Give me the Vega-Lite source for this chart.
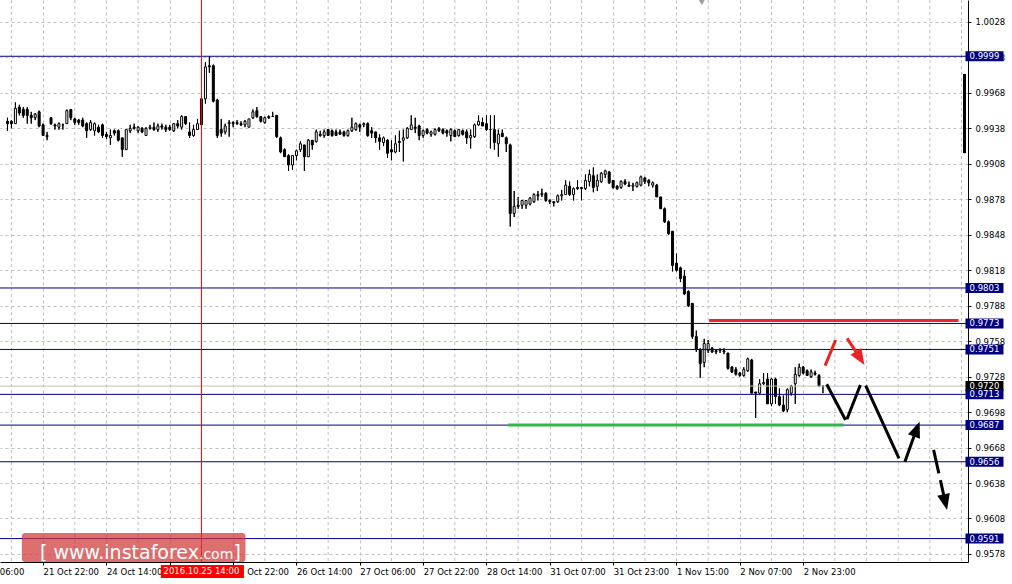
{
"$schema":"https://vega.github.io/schema/vega-lite/v6.json",
"width":968,"height":562,"autosize":{"type":"none"},"padding":{"left":0,"top":0,"right":44,"bottom":22},"background":"#ffffff",
"config":{"view":{"stroke":null},
 "axis":{"labelOverlap":false,"labelSeparation":-1000,"grid":true,"gridColor":"#c0c0c0","gridDash":[3,3],"gridWidth":1,"domainColor":"#000000","domainWidth":1,"tickColor":"#000000","tickSize":3,"labelFont":"DejaVu Sans","labelFontSize":8.5,"labelColor":"#000000"}},
"datasets":{
"candles":[
{"n":-9,"o":0.9944,"h":0.9947,"l":0.9936,"c":0.9942},
{"n":-8,"o":0.9944,"h":0.9945,"l":0.9938,"c":0.9942},
{"n":-7,"o":0.9942,"h":0.9960,"l":0.9942,"c":0.9955},
{"n":-6,"o":0.9956,"h":0.9958,"l":0.9949,"c":0.9951},
{"n":-5,"o":0.9954,"h":0.9956,"l":0.9947,"c":0.9949},
{"n":-4,"o":0.9954,"h":0.9956,"l":0.9942,"c":0.9949},
{"n":-3,"o":0.9949,"h":0.9952,"l":0.9942,"c":0.9947},
{"n":-2,"o":0.9947,"h":0.9951,"l":0.9945,"c":0.9950},
{"n":-1,"o":0.9952,"h":0.9953,"l":0.9939,"c":0.9940},
{"n":0,"o":0.9941,"h":0.9942,"l":0.9932,"c":0.9932},
{"n":1,"o":0.9932,"h":0.9935,"l":0.9928,"c":0.9931},
{"n":2,"o":0.9947,"h":0.9947,"l":0.9941,"c":0.9942},
{"n":3,"o":0.9941,"h":0.9942,"l":0.9937,"c":0.9940},
{"n":4,"o":0.9939,"h":0.9943,"l":0.9937,"c":0.9942},
{"n":5,"o":0.9941,"h":0.9942,"l":0.9937,"c":0.9941},
{"n":6,"o":0.9942,"h":0.9954,"l":0.9942,"c":0.9953},
{"n":7,"o":0.9954,"h":0.9954,"l":0.9945,"c":0.9947},
{"n":8,"o":0.9946,"h":0.9947,"l":0.9941,"c":0.9943},
{"n":9,"o":0.9945,"h":0.9946,"l":0.9941,"c":0.9943},
{"n":10,"o":0.9945,"h":0.9947,"l":0.9939,"c":0.9940},
{"n":11,"o":0.9942,"h":0.9943,"l":0.9930,"c":0.9936},
{"n":12,"o":0.9937,"h":0.9945,"l":0.9936,"c":0.9943},
{"n":13,"o":0.9936,"h":0.9943,"l":0.9932,"c":0.9942},
{"n":14,"o":0.9939,"h":0.9941,"l":0.9934,"c":0.9935},
{"n":15,"o":0.9941,"h":0.9942,"l":0.9930,"c":0.9932},
{"n":16,"o":0.9933,"h":0.9935,"l":0.9929,"c":0.9931},
{"n":17,"o":0.9930,"h":0.9937,"l":0.9924,"c":0.9932},
{"n":18,"o":0.9936,"h":0.9937,"l":0.9932,"c":0.9934},
{"n":19,"o":0.9936,"h":0.9937,"l":0.9927,"c":0.9928},
{"n":20,"o":0.9930,"h":0.9930,"l":0.9914,"c":0.9920},
{"n":21,"o":0.9920,"h":0.9937,"l":0.9920,"c":0.9937},
{"n":22,"o":0.9936,"h":0.9941,"l":0.9934,"c":0.9938},
{"n":23,"o":0.9939,"h":0.9942,"l":0.9937,"c":0.9938},
{"n":24,"o":0.9936,"h":0.9940,"l":0.9934,"c":0.9939},
{"n":25,"o":0.9938,"h":0.9939,"l":0.9934,"c":0.9935},
{"n":26,"o":0.9932,"h":0.9939,"l":0.9932,"c":0.9938},
{"n":27,"o":0.9938,"h":0.9941,"l":0.9937,"c":0.9939},
{"n":28,"o":0.9939,"h":0.9943,"l":0.9936,"c":0.9937},
{"n":29,"o":0.9937,"h":0.9942,"l":0.9935,"c":0.9940},
{"n":30,"o":0.9940,"h":0.9942,"l":0.9937,"c":0.9939},
{"n":31,"o":0.9939,"h":0.9941,"l":0.9935,"c":0.9937},
{"n":32,"o":0.9939,"h":0.9941,"l":0.9936,"c":0.9937},
{"n":33,"o":0.9936,"h":0.9942,"l":0.9935,"c":0.9942},
{"n":34,"o":0.9942,"h":0.9945,"l":0.9938,"c":0.9940},
{"n":35,"o":0.9939,"h":0.9949,"l":0.9937,"c":0.9948},
{"n":36,"o":0.9948,"h":0.9948,"l":0.9941,"c":0.9942},
{"n":37,"o":0.9935,"h":0.9943,"l":0.9930,"c":0.9932},
{"n":38,"o":0.9932,"h":0.9941,"l":0.9931,"c":0.9937},
{"n":39,"o":0.9937,"h":0.9946,"l":0.9937,"c":0.9942},
{"n":40,"o":0.9963,"h":0.9963,"l":0.9941,"c":0.9941},
{"n":41,"o":0.9963,"h":0.9994,"l":0.9959,"c":0.9990},
{"n":42,"o":0.9991,"h":0.9999,"l":0.9985,"c":0.9990},
{"n":43,"o":0.9991,"h":0.9992,"l":0.9960,"c":0.9961},
{"n":44,"o":0.9962,"h":0.9963,"l":0.9930,"c":0.9932},
{"n":45,"o":0.9937,"h":0.9946,"l":0.9931,"c":0.9934},
{"n":46,"o":0.9935,"h":0.9942,"l":0.9933,"c":0.9940},
{"n":47,"o":0.9942,"h":0.9945,"l":0.9931,"c":0.9943},
{"n":48,"o":0.9943,"h":0.9944,"l":0.9939,"c":0.9942},
{"n":49,"o":0.9943,"h":0.9945,"l":0.9941,"c":0.9942},
{"n":50,"o":0.9942,"h":0.9944,"l":0.9940,"c":0.9941},
{"n":51,"o":0.9941,"h":0.9945,"l":0.9939,"c":0.9944},
{"n":52,"o":0.9939,"h":0.9946,"l":0.9939,"c":0.9946},
{"n":53,"o":0.9947,"h":0.9954,"l":0.9946,"c":0.9952},
{"n":54,"o":0.9953,"h":0.9956,"l":0.9947,"c":0.9948},
{"n":55,"o":0.9948,"h":0.9948,"l":0.9943,"c":0.9944},
{"n":56,"o":0.9943,"h":0.9948,"l":0.9942,"c":0.9947},
{"n":57,"o":0.9948,"h":0.9949,"l":0.9946,"c":0.9947},
{"n":58,"o":0.9948,"h":0.9952,"l":0.9948,"c":0.9948},
{"n":59,"o":0.9949,"h":0.9949,"l":0.9930,"c":0.9931},
{"n":60,"o":0.9930,"h":0.9931,"l":0.9917,"c":0.9918},
{"n":61,"o":0.9920,"h":0.9921,"l":0.9914,"c":0.9914},
{"n":62,"o":0.9915,"h":0.9916,"l":0.9902,"c":0.9907},
{"n":63,"o":0.9907,"h":0.9915,"l":0.9903,"c":0.9915},
{"n":64,"o":0.9915,"h":0.9920,"l":0.9911,"c":0.9919},
{"n":65,"o":0.9920,"h":0.9927,"l":0.9918,"c":0.9925},
{"n":66,"o":0.9924,"h":0.9924,"l":0.9902,"c":0.9914},
{"n":67,"o":0.9914,"h":0.9929,"l":0.9914,"c":0.9928},
{"n":68,"o":0.9928,"h":0.9928,"l":0.9920,"c":0.9924},
{"n":69,"o":0.9927,"h":0.9937,"l":0.9926,"c":0.9935},
{"n":70,"o":0.9933,"h":0.9936,"l":0.9931,"c":0.9932},
{"n":71,"o":0.9932,"h":0.9937,"l":0.9930,"c":0.9935},
{"n":72,"o":0.9937,"h":0.9937,"l":0.9932,"c":0.9932},
{"n":73,"o":0.9936,"h":0.9937,"l":0.9931,"c":0.9932},
{"n":74,"o":0.9935,"h":0.9937,"l":0.9932,"c":0.9932},
{"n":75,"o":0.9935,"h":0.9937,"l":0.9933,"c":0.9933},
{"n":76,"o":0.9935,"h":0.9936,"l":0.9931,"c":0.9932},
{"n":77,"o":0.9932,"h":0.9937,"l":0.9931,"c":0.9936},
{"n":78,"o":0.9936,"h":0.9947,"l":0.9935,"c":0.9939},
{"n":79,"o":0.9937,"h":0.9943,"l":0.9936,"c":0.9942},
{"n":80,"o":0.9941,"h":0.9942,"l":0.9935,"c":0.9939},
{"n":81,"o":0.9941,"h":0.9943,"l":0.9939,"c":0.9942},
{"n":82,"o":0.9942,"h":0.9943,"l":0.9931,"c":0.9932},
{"n":83,"o":0.9936,"h":0.9939,"l":0.9930,"c":0.9934},
{"n":84,"o":0.9935,"h":0.9935,"l":0.9926,"c":0.9930},
{"n":85,"o":0.9930,"h":0.9933,"l":0.9920,"c":0.9927},
{"n":86,"o":0.9926,"h":0.9931,"l":0.9923,"c":0.9930},
{"n":87,"o":0.9928,"h":0.9929,"l":0.9913,"c":0.9917},
{"n":88,"o":0.9920,"h":0.9928,"l":0.9911,"c":0.9918},
{"n":89,"o":0.9918,"h":0.9932,"l":0.9917,"c":0.9925},
{"n":90,"o":0.9927,"h":0.9936,"l":0.9918,"c":0.9926},
{"n":91,"o":0.9928,"h":0.9937,"l":0.9910,"c":0.9930},
{"n":92,"o":0.9930,"h":0.9939,"l":0.9929,"c":0.9938},
{"n":93,"o":0.9937,"h":0.9949,"l":0.9937,"c":0.9941},
{"n":94,"o":0.9939,"h":0.9947,"l":0.9934,"c":0.9938},
{"n":95,"o":0.9940,"h":0.9941,"l":0.9928,"c":0.9932},
{"n":96,"o":0.9932,"h":0.9937,"l":0.9930,"c":0.9936},
{"n":97,"o":0.9937,"h":0.9938,"l":0.9933,"c":0.9934},
{"n":98,"o":0.9933,"h":0.9936,"l":0.9931,"c":0.9935},
{"n":99,"o":0.9933,"h":0.9938,"l":0.9932,"c":0.9937},
{"n":100,"o":0.9938,"h":0.9939,"l":0.9935,"c":0.9936},
{"n":101,"o":0.9937,"h":0.9938,"l":0.9933,"c":0.9934},
{"n":102,"o":0.9936,"h":0.9937,"l":0.9931,"c":0.9934},
{"n":103,"o":0.9932,"h":0.9938,"l":0.9927,"c":0.9937},
{"n":104,"o":0.9936,"h":0.9937,"l":0.9931,"c":0.9931},
{"n":105,"o":0.9932,"h":0.9937,"l":0.9931,"c":0.9937},
{"n":106,"o":0.9936,"h":0.9937,"l":0.9932,"c":0.9933},
{"n":107,"o":0.9935,"h":0.9937,"l":0.9925,"c":0.9930},
{"n":108,"o":0.9930,"h":0.9937,"l":0.9921,"c":0.9932},
{"n":109,"o":0.9931,"h":0.9942,"l":0.9930,"c":0.9941},
{"n":110,"o":0.9941,"h":0.9949,"l":0.9940,"c":0.9944},
{"n":111,"o":0.9943,"h":0.9947,"l":0.9940,"c":0.9940},
{"n":112,"o":0.9942,"h":0.9949,"l":0.9936,"c":0.9937},
{"n":113,"o":0.9937,"h":0.9949,"l":0.9921,"c":0.9937},
{"n":114,"o":0.9937,"h":0.9949,"l":0.9920,"c":0.9926},
{"n":115,"o":0.9925,"h":0.9937,"l":0.9914,"c":0.9933},
{"n":116,"o":0.9934,"h":0.9937,"l":0.9931,"c":0.9931},
{"n":117,"o":0.9930,"h":0.9931,"l":0.9918,"c":0.9925},
{"n":118,"o":0.9924,"h":0.9925,"l":0.9855,"c":0.9866},
{"n":119,"o":0.9866,"h":0.9885,"l":0.9863,"c":0.9872},
{"n":120,"o":0.9873,"h":0.9880,"l":0.9870,"c":0.9872},
{"n":121,"o":0.9873,"h":0.9877,"l":0.9870,"c":0.9877},
{"n":122,"o":0.9873,"h":0.9877,"l":0.9870,"c":0.9877},
{"n":123,"o":0.9874,"h":0.9880,"l":0.9873,"c":0.9879},
{"n":124,"o":0.9876,"h":0.9883,"l":0.9875,"c":0.9882},
{"n":125,"o":0.9882,"h":0.9885,"l":0.9877,"c":0.9881},
{"n":126,"o":0.9882,"h":0.9887,"l":0.9880,"c":0.9883},
{"n":127,"o":0.9883,"h":0.9884,"l":0.9876,"c":0.9877},
{"n":128,"o":0.9877,"h":0.9878,"l":0.9874,"c":0.9876},
{"n":129,"o":0.9876,"h":0.9876,"l":0.9872,"c":0.9875},
{"n":130,"o":0.9876,"h":0.9882,"l":0.9875,"c":0.9881},
{"n":131,"o":0.9881,"h":0.9886,"l":0.9877,"c":0.9882},
{"n":132,"o":0.9882,"h":0.9894,"l":0.9882,"c":0.9890},
{"n":133,"o":0.9889,"h":0.9893,"l":0.9881,"c":0.9882},
{"n":134,"o":0.9882,"h":0.9888,"l":0.9877,"c":0.9887},
{"n":135,"o":0.9888,"h":0.9894,"l":0.9886,"c":0.9887},
{"n":136,"o":0.9888,"h":0.9888,"l":0.9877,"c":0.9887},
{"n":137,"o":0.9887,"h":0.9899,"l":0.9886,"c":0.9894},
{"n":138,"o":0.9893,"h":0.9903,"l":0.9889,"c":0.9899},
{"n":139,"o":0.9898,"h":0.9905,"l":0.9884,"c":0.9888},
{"n":140,"o":0.9889,"h":0.9899,"l":0.9885,"c":0.9894},
{"n":141,"o":0.9893,"h":0.9901,"l":0.9892,"c":0.9900},
{"n":142,"o":0.9899,"h":0.9903,"l":0.9896,"c":0.9902},
{"n":143,"o":0.9901,"h":0.9902,"l":0.9891,"c":0.9892},
{"n":144,"o":0.9894,"h":0.9894,"l":0.9887,"c":0.9888},
{"n":145,"o":0.9889,"h":0.9890,"l":0.9886,"c":0.9887},
{"n":146,"o":0.9888,"h":0.9894,"l":0.9887,"c":0.9893},
{"n":147,"o":0.9893,"h":0.9895,"l":0.9890,"c":0.9891},
{"n":148,"o":0.9890,"h":0.9893,"l":0.9889,"c":0.9889},
{"n":149,"o":0.9889,"h":0.9892,"l":0.9885,"c":0.9890},
{"n":150,"o":0.9889,"h":0.9893,"l":0.9888,"c":0.9892},
{"n":151,"o":0.9890,"h":0.9898,"l":0.9889,"c":0.9897},
{"n":152,"o":0.9896,"h":0.9897,"l":0.9891,"c":0.9893},
{"n":153,"o":0.9894,"h":0.9895,"l":0.9889,"c":0.9892},
{"n":154,"o":0.9890,"h":0.9893,"l":0.9888,"c":0.9892},
{"n":155,"o":0.9890,"h":0.9891,"l":0.9880,"c":0.9880},
{"n":156,"o":0.9880,"h":0.9880,"l":0.9870,"c":0.9870},
{"n":157,"o":0.9870,"h":0.9871,"l":0.9858,"c":0.9859},
{"n":158,"o":0.9859,"h":0.9860,"l":0.9848,"c":0.9849},
{"n":159,"o":0.9851,"h":0.9851,"l":0.9817,"c":0.9822},
{"n":160,"o":0.9824,"h":0.9832,"l":0.9817,"c":0.9818},
{"n":161,"o":0.9820,"h":0.9821,"l":0.9808,"c":0.9811},
{"n":162,"o":0.9813,"h":0.9818,"l":0.9797,"c":0.9798},
{"n":163,"o":0.9800,"h":0.9801,"l":0.9787,"c":0.9788},
{"n":164,"o":0.9790,"h":0.9790,"l":0.9760,"c":0.9762},
{"n":165,"o":0.9762,"h":0.9767,"l":0.9749,"c":0.9751},
{"n":166,"o":0.9751,"h":0.9752,"l":0.9727,"c":0.9739},
{"n":167,"o":0.9740,"h":0.9760,"l":0.9736,"c":0.9756},
{"n":168,"o":0.9750,"h":0.9759,"l":0.9748,"c":0.9756},
{"n":169,"o":0.9752,"h":0.9753,"l":0.9748,"c":0.9749},
{"n":170,"o":0.9750,"h":0.9751,"l":0.9747,"c":0.9749},
{"n":171,"o":0.9750,"h":0.9752,"l":0.9748,"c":0.9751},
{"n":172,"o":0.9750,"h":0.9752,"l":0.9747,"c":0.9749},
{"n":173,"o":0.9748,"h":0.9748,"l":0.9734,"c":0.9735},
{"n":174,"o":0.9736,"h":0.9737,"l":0.9731,"c":0.9732},
{"n":175,"o":0.9734,"h":0.9736,"l":0.9729,"c":0.9730},
{"n":176,"o":0.9731,"h":0.9732,"l":0.9728,"c":0.9729},
{"n":177,"o":0.9729,"h":0.9736,"l":0.9728,"c":0.9734},
{"n":178,"o":0.9733,"h":0.9744,"l":0.9732,"c":0.9743},
{"n":179,"o":0.9742,"h":0.9743,"l":0.9714,"c":0.9714},
{"n":180,"o":0.9715,"h":0.9715,"l":0.9693,"c":0.9714},
{"n":181,"o":0.9714,"h":0.9726,"l":0.9713,"c":0.9722},
{"n":182,"o":0.9722,"h":0.9731,"l":0.9721,"c":0.9723},
{"n":183,"o":0.9726,"h":0.9731,"l":0.9705,"c":0.9705},
{"n":184,"o":0.9705,"h":0.9727,"l":0.9703,"c":0.9726},
{"n":185,"o":0.9726,"h":0.9727,"l":0.9705,"c":0.9711},
{"n":186,"o":0.9711,"h":0.9718,"l":0.9703,"c":0.9704},
{"n":187,"o":0.9704,"h":0.9712,"l":0.9698,"c":0.9699},
{"n":188,"o":0.9700,"h":0.9718,"l":0.9698,"c":0.9717},
{"n":189,"o":0.9714,"h":0.9721,"l":0.9712,"c":0.9720},
{"n":190,"o":0.9722,"h":0.9736,"l":0.9705,"c":0.9730},
{"n":191,"o":0.9729,"h":0.9739,"l":0.9728,"c":0.9736},
{"n":192,"o":0.9736,"h":0.9737,"l":0.9730,"c":0.9731},
{"n":193,"o":0.9733,"h":0.9734,"l":0.9729,"c":0.9729},
{"n":194,"o":0.9728,"h":0.9734,"l":0.9727,"c":0.9732},
{"n":195,"o":0.9731,"h":0.9733,"l":0.9729,"c":0.9730},
{"n":196,"o":0.9729,"h":0.9730,"l":0.9720,"c":0.9720},
{"n":197,"o":0.9720,"h":0.9720,"l":0.9714,"c":0.9720}
],
"vgrid":[{"n":-8},{"n":8},{"n":24},{"n":40},{"n":56},{"n":72},{"n":88},{"n":104},{"n":120},{"n":136},{"n":152},{"n":168},{"n":184},{"n":200},{"n":208},{"n":216},{"n":224},{"n":232}],
"levels":[{"v":0.9999,"t":"0.9999"},{"v":0.9803,"t":"0.9803"},{"v":0.9773,"t":"0.9773"},{"v":0.9751,"t":"0.9751"},{"v":0.9713,"t":"0.9713"},{"v":0.9687,"t":"0.9687"},{"v":0.9656,"t":"0.9656"},{"v":0.9591,"t":"0.9591"}],
"price":[{"v":0.9720,"t":"0.9720"}],
"vline":[{"n":40}],
"redLevel":[{"n1":168.25,"n2":231.25,"v":0.97755}],
"greenLevel":[{"n1":117.5,"n2":202.25,"v":0.9687}],
"pattern":[
{"seg":"A","i":0,"n":197.95,"v":0.97215},{"seg":"A","i":1,"n":202.7,"v":0.96913},
{"seg":"B","i":0,"n":203.05,"v":0.96919},{"seg":"B","i":1,"n":206.45,"v":0.97209},
{"seg":"C","i":0,"n":207.8,"v":0.97204},{"seg":"C","i":1,"n":216.2,"v":0.96589},
{"seg":"D","i":0,"n":217.7,"v":0.96561},{"seg":"D","i":1,"n":220.9,"v":0.96860}],
"dashed":[{"i":0,"n":224.95,"v":0.9666},{"i":1,"n":227.9,"v":0.96218}],
"redPath":[{"seg":"R1","i":0,"n":197.55,"v":0.97373},{"seg":"R1","i":1,"n":200.2,"v":0.9759},{"seg":"R2","i":0,"n":203.1,"v":0.97604},{"seg":"R2","i":1,"n":206.4,"v":0.97436}],
"headRed":[{"n":206.4,"v":0.97436}],
"headUp":[{"n":220.7,"v":0.96836}],
"headDown":[{"n":227.9,"v":0.96218}],
"dateTag":[{"t":"2016.10.25 14:00"}],
"watermark":[{"n1":-5.375,"n2":51.125,"v1":0.959575,"v2":0.95712}],
"marker":[{"n":166.4,"v":1.00445}],
"scaleBar":[{"n":232.75,"v1":0.9984,"v2":0.9917}]
},
"layer":[
{"data":{"name":"candles"},"mark":{"type":"rule","color":"#000000","strokeWidth":1},
 "encoding":{
  "x":{"field":"n","type":"quantitative","title":null,"scale":{"domain":[-9.625,232.375],"nice":false,"zero":false},
   "axis":{"orient":"bottom","values":[-4.875,0,16,32,48,64,80,96,112,128,144,160,176,192],"tickCount":100,"title":null,"grid":true,"labelOverlap":false,"labelSeparation":-1000,
   "tickOpacity":{"condition":{"test":"datum.value < 0","value":0},"value":1},
   "gridOpacity":{"condition":{"test":"datum.value < 0","value":0},"value":1},
   "labelAlign":{"condition":{"test":"datum.value < 0","value":"right"},"value":"left"},
   "labelExpr":"datum.value < 0 ? '21 Oct 06:00' : datum.value == 0 ? '21 Oct 22:00' : datum.value == 16 ? '24 Oct 14:00' : datum.value == 32 ? '25 Oct 06:00' : datum.value == 48 ? '25 Oct 22:00' : datum.value == 64 ? '26 Oct 14:00' : datum.value == 80 ? '27 Oct 06:00' : datum.value == 96 ? '27 Oct 22:00' : datum.value == 112 ? '28 Oct 14:00' : datum.value == 128 ? '31 Oct 07:00' : datum.value == 144 ? '31 Oct 23:00' : datum.value == 160 ? '1 Nov 15:00' : datum.value == 176 ? '2 Nov 07:00' : '2 Nov 23:00'",
   "labelBaseline":"top","labelPadding":2,"labelDx":-1.5}},
  "y":{"field":"l","type":"quantitative","title":null,"scale":{"domain":[0.95712,1.00466],"nice":false,"zero":false},
   "axis":{"orient":"right","values":[1.0028,0.9998,0.9968,0.9938,0.9908,0.9878,0.9848,0.9818,0.9788,0.9758,0.9728,0.9698,0.9668,0.9638,0.9608,0.9578],"tickCount":100,"format":".4f","title":null,"grid":true,"labelOverlap":false,"labelSeparation":-1000,"labelPadding":4}},
  "y2":{"field":"h"}}},
{"data":{"name":"vgrid"},"mark":{"type":"rule","color":"#c0c0c0","strokeWidth":1,"strokeDash":[3,3]},
 "encoding":{"x":{"field":"n","type":"quantitative","title":null}}},
{"data":{"name":"candles"},"mark":{"type":"rule","color":"#000000","strokeWidth":1},
 "encoding":{"x":{"field":"n","type":"quantitative","title":null},"y":{"field":"l","type":"quantitative","title":null},"y2":{"field":"h"}}},
{"data":{"name":"candles"},"mark":{"type":"bar","orient":"vertical","width":2,"stroke":"#000000","strokeWidth":1,"opacity":1},
 "encoding":{
  "x":{"field":"n","type":"quantitative","title":null},
  "y":{"field":"o","type":"quantitative","title":null},
  "y2":{"field":"c"},
  "fill":{"condition":{"test":"datum.o > datum.c","value":"#000000"},"value":"#ffffff"}}},
{"data":{"name":"levels"},"mark":{"type":"rule","color":"#000080","strokeWidth":1},
 "encoding":{"y":{"field":"v","type":"quantitative","title":null}}},
{"data":{"name":"price"},"mark":{"type":"rule","color":"#c0c0c0","strokeWidth":1},
 "encoding":{"y":{"field":"v","type":"quantitative","title":null}}},
{"data":{"name":"vline"},"mark":{"type":"rule","color":"#ff0000","strokeWidth":1},
 "encoding":{"x":{"field":"n","type":"quantitative","title":null}}},
{"data":{"name":"redLevel"},"mark":{"type":"rule","color":"#e8282c","strokeWidth":3},
 "encoding":{"x":{"field":"n1","type":"quantitative","title":null},"x2":{"field":"n2"},
  "y":{"field":"v","type":"quantitative","title":null}}},
{"data":{"name":"greenLevel"},"mark":{"type":"rule","color":"#36b34a","strokeWidth":3},
 "encoding":{"x":{"field":"n1","type":"quantitative","title":null},"x2":{"field":"n2"},
  "y":{"field":"v","type":"quantitative","title":null}}},
{"data":{"name":"pattern"},"mark":{"type":"line","color":"#000000","strokeWidth":3},
 "encoding":{"x":{"field":"n","type":"quantitative","title":null},
  "y":{"field":"v","type":"quantitative","title":null},
  "detail":{"field":"seg","type":"nominal"},"order":{"field":"i","type":"quantitative"}}},
{"data":{"name":"dashed"},"mark":{"type":"line","color":"#000000","strokeWidth":3,"strokeDash":[24,7]},
 "encoding":{"x":{"field":"n","type":"quantitative","title":null},
  "y":{"field":"v","type":"quantitative","title":null},
  "order":{"field":"i","type":"quantitative"}}},
{"data":{"name":"redPath"},"mark":{"type":"line","color":"#ee2222","strokeWidth":3},
 "encoding":{"x":{"field":"n","type":"quantitative","title":null},
  "y":{"field":"v","type":"quantitative","title":null},
  "detail":{"field":"seg","type":"nominal"},"order":{"field":"i","type":"quantitative"}}},
{"data":{"name":"headRed"},"mark":{"type":"point","shape":"M0,-1L-0.8,1L0.8,1Z","size":256,"filled":true,"fill":"#ee2222","strokeWidth":0,"opacity":1,"angle":147.8},
 "encoding":{"x":{"field":"n","type":"quantitative","title":null},
  "y":{"field":"v","type":"quantitative","title":null}}},
{"data":{"name":"headUp"},"mark":{"type":"point","shape":"M0,-1L-0.8,1L0.8,1Z","size":256,"filled":true,"fill":"#000000","strokeWidth":0,"opacity":1,"angle":20.6},
 "encoding":{"x":{"field":"n","type":"quantitative","title":null},
  "y":{"field":"v","type":"quantitative","title":null}}},
{"data":{"name":"headDown"},"mark":{"type":"point","shape":"M0,-1L-0.8,1L0.8,1Z","size":256,"filled":true,"fill":"#000000","strokeWidth":0,"opacity":1,"angle":167.4},
 "encoding":{"x":{"field":"n","type":"quantitative","title":null},
  "y":{"field":"v","type":"quantitative","title":null}}},
{"data":{"name":"scaleBar"},"mark":{"type":"rule","color":"#000000","strokeWidth":3},
 "encoding":{"x":{"field":"n","type":"quantitative","title":null},
  "y":{"field":"v1","type":"quantitative","title":null},"y2":{"field":"v2"}}},
{"data":{"name":"price"},"mark":{"type":"point","shape":"M-1,-0.2632L1,-0.2632L1,0.2632L-1,0.2632Z","size":1444,"filled":true,"fill":"#000000","strokeWidth":0,"opacity":1},
 "encoding":{"x":{"datum":237.8,"type":"quantitative","title":null},
  "y":{"field":"v","type":"quantitative","title":null}}},
{"data":{"name":"price"},"mark":{"type":"text","color":"#ffffff","font":"DejaVu Sans","fontSize":8.5,"align":"center","baseline":"middle"},
 "encoding":{"x":{"datum":237.8,"type":"quantitative","title":null},
  "y":{"field":"v","type":"quantitative","title":null},"text":{"field":"t"}}},
{"data":{"name":"levels"},"mark":{"type":"point","shape":"M-1,-0.2632L1,-0.2632L1,0.2632L-1,0.2632Z","size":1444,"filled":true,"fill":"#000080","strokeWidth":0,"opacity":1},
 "encoding":{"x":{"datum":237.8,"type":"quantitative","title":null},
  "y":{"field":"v","type":"quantitative","title":null}}},
{"data":{"name":"levels"},"mark":{"type":"text","color":"#ffffff","font":"DejaVu Sans","fontSize":8.5,"align":"center","baseline":"middle"},
 "encoding":{"x":{"datum":237.8,"type":"quantitative","title":null},
  "y":{"field":"v","type":"quantitative","title":null},"text":{"field":"t"}}},
{"data":{"name":"dateTag"},"mark":{"type":"point","shape":"M-1,-0.1566L1,-0.1566L1,0.1566L-1,0.1566Z","size":6889,"filled":true,"fill":"#ff0000","strokeWidth":0,"opacity":1},
 "encoding":{"x":{"datum":40.25,"type":"quantitative","title":null},
  "y":{"datum":0.95632,"type":"quantitative","title":null}}},
{"data":{"name":"dateTag"},"mark":{"type":"text","color":"#ffffff","font":"DejaVu Sans","fontSize":8.5,"align":"center","baseline":"middle"},
 "encoding":{"x":{"datum":40.0,"type":"quantitative","title":null},
  "y":{"datum":0.95632,"type":"quantitative","title":null},"text":{"field":"t"}}},
{"data":{"name":"watermark"},"mark":{"type":"rect","fill":"#d03838","opacity":0.72,"cornerRadius":3},
 "encoding":{"x":{"field":"n1","type":"quantitative","title":null},"x2":{"field":"n2"},
  "y":{"field":"v1","type":"quantitative","title":null},"y2":{"field":"v2"}}},
{"data":{"name":"watermark"},"mark":{"type":"text","text":"[  www.instaforex","color":"#ffffff","font":"DejaVu Sans","fontSize":19,"align":"right","baseline":"alphabetic"},
 "encoding":{"x":{"datum":39.375,"type":"quantitative","title":null},
  "y":{"datum":0.95738,"type":"quantitative","title":null}}},
{"data":{"name":"watermark"},"mark":{"type":"text","text":".com","color":"#ffffff","font":"DejaVu Sans","fontSize":14,"align":"left","baseline":"alphabetic"},
 "encoding":{"x":{"datum":39.375,"type":"quantitative","title":null},
  "y":{"datum":0.95738,"type":"quantitative","title":null}}},
{"data":{"name":"watermark"},"mark":{"type":"text","text":"]","color":"#ffffff","font":"DejaVu Sans","fontSize":19,"align":"left","baseline":"alphabetic"},
 "encoding":{"x":{"datum":48.1,"type":"quantitative","title":null},
  "y":{"datum":0.95738,"type":"quantitative","title":null}}},
{"data":{"name":"marker"},"mark":{"type":"point","shape":"triangle-down","size":40,"filled":true,"fill":"#a0a0a0","strokeWidth":0,"opacity":1},
 "encoding":{"x":{"field":"n","type":"quantitative","title":null},
  "y":{"field":"v","type":"quantitative","title":null}}}
]
}
